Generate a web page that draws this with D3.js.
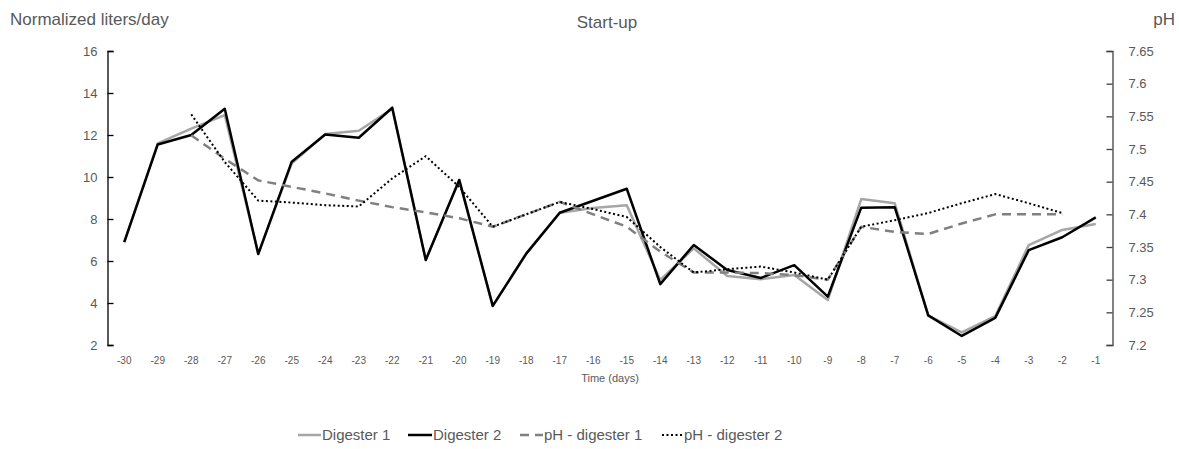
<!DOCTYPE html>
<html>
<head>
<meta charset="utf-8">
<script src="https://cdn.jsdelivr.net/npm/d3@7"></script>
<style>
  html, body { margin: 0; padding: 0; background: #ffffff; }
  svg { display: block; font-family: "Liberation Sans", Arial, sans-serif; }
</style>
</head>
<body>
<svg id="chart" width="1179" height="449"></svg>
<script>
// Days before start-up
const days = [-30,-29,-28,-27,-26,-25,-24,-23,-22,-21,-20,-19,-18,-17,-16,-15,-14,-13,-12,-11,-10,-9,-8,-7,-6,-5,-4,-3,-2,-1];

// Normalized gas production (liters/day)
const digester1 = [6.9,11.6,12.3,12.95,6.35,10.65,12.05,12.2,13.25,6.05,9.85,3.86,6.35,8.3,8.52,8.65,5.1,6.6,5.29,5.13,5.33,4.14,8.95,8.75,3.4,2.6,3.38,6.76,7.48,7.76];
const digester2 = [6.9,11.55,12.0,13.25,6.33,10.73,12.02,11.87,13.3,6.05,9.86,3.86,6.35,8.3,8.87,9.44,4.9,6.76,5.57,5.19,5.8,4.3,8.54,8.56,3.41,2.43,3.29,6.52,7.13,8.08];

// pH readings (null where no measurement)
const phDigester1 = [null,null,7.521,7.485,7.452,7.442,7.432,7.421,7.411,7.403,7.394,7.381,7.40,7.419,7.40,7.381,7.343,7.311,7.311,7.310,7.307,7.30,7.381,7.373,7.370,7.386,7.400,7.400,7.400,null];
const phDigester2 = [null,null,7.553,7.48,7.421,7.418,7.414,7.412,7.455,7.489,7.442,7.381,7.40,7.419,7.408,7.396,7.35,7.311,7.316,7.320,7.311,7.300,7.381,7.391,7.402,7.417,7.431,7.417,7.402,null];

const leftTicks = [2,4,6,8,10,12,14,16];
const rightTicks = [7.2,7.25,7.3,7.35,7.4,7.45,7.5,7.55,7.6,7.65];

const svg = d3.select("#chart");
const plot = { left: 107.5, right: 1112.5, top: 51, bottom: 345 };
const textColor = "#595959";

const x = d3.scaleBand().domain(days).range([plot.left, plot.right]).padding(0);
const cx = d => x(d) + x.bandwidth() / 2;
const yL = d3.scaleLinear().domain([2, 16]).range([plot.bottom, plot.top]);
const yR = d3.scaleLinear().domain([7.2, 7.65]).range([plot.bottom, plot.top]);

// Left axis
const gL = svg.append("g").attr("transform", `translate(${plot.left},0)`)
  .call(d3.axisLeft(yL).tickValues(leftTicks).tickSize(-6).tickPadding(10).tickFormat(d3.format("d")));
gL.select(".domain").attr("stroke", "#000").attr("stroke-width", 1.3);
gL.selectAll(".tick line").attr("stroke", "#000").attr("stroke-width", 1.3);
gL.selectAll(".tick text").attr("fill", textColor).style("font-size", "13px");

// Right axis
const gR = svg.append("g").attr("transform", `translate(${plot.right},0)`)
  .call(d3.axisRight(yR).tickValues(rightTicks).tickSize(-6).tickPadding(16).tickFormat(d => d3.format("")(+d.toFixed(2))));
gR.select(".domain").attr("stroke", "#404040").attr("stroke-width", 1.3);
gR.selectAll(".tick line").attr("stroke", "#404040").attr("stroke-width", 1.3);
gR.selectAll(".tick text").attr("fill", textColor).style("font-size", "13px");

// Category axis (labels only)
const gX = svg.append("g").attr("transform", `translate(0,${plot.bottom})`)
  .call(d3.axisBottom(x).tickSize(0).tickPadding(12));
gX.select(".domain").remove();
gX.selectAll(".tick text").attr("fill", textColor).style("font-size", "10px");

// Series lines
const lineL = d3.line().x((d, i) => cx(days[i])).y(d => yL(d));
const lineR = d3.line().defined(d => d != null).x((d, i) => cx(days[i])).y(d => yR(d));

const series = [
  { name: "Digester 1", values: digester1, line: lineL, stroke: "#a6a6a6", width: 2.5, dash: null },
  { name: "Digester 2", values: digester2, line: lineL, stroke: "#000000", width: 2.5, dash: null },
  { name: "pH - digester 1", values: phDigester1, line: lineR, stroke: "#808080", width: 2.5, dash: "9,6" },
  { name: "pH - digester 2", values: phDigester2, line: lineR, stroke: "#000000", width: 2, dash: "2,2.5" }
];

svg.append("g").selectAll("path").data(series).join("path")
  .attr("d", s => s.line(s.values))
  .attr("fill", "none")
  .attr("stroke", s => s.stroke)
  .attr("stroke-width", s => s.width)
  .attr("stroke-dasharray", s => s.dash)
  .attr("stroke-linejoin", "round");

// Titles
svg.append("text").attr("x", 10).attr("y", 25).attr("fill", textColor)
  .style("font-size", "17px").text("Normalized liters/day");
svg.append("text").attr("x", 607).attr("y", 28).attr("text-anchor", "middle").attr("fill", textColor)
  .style("font-size", "17px").text("Start-up");
svg.append("text").attr("x", 1175).attr("y", 25).attr("text-anchor", "end").attr("fill", textColor)
  .style("font-size", "17px").text("pH");
svg.append("text").attr("x", (plot.left + plot.right) / 2).attr("y", 382).attr("text-anchor", "middle").attr("fill", textColor)
  .style("font-size", "11px").text("Time (days)");

// Legend
const legendItems = [
  { s: series[0], x0: 298, x1: 321 },
  { s: series[1], x0: 408, x1: 432 },
  { s: series[2], x0: 520, x1: 543 },
  { s: series[3], x0: 662, x1: 683 }
];
const lg = svg.append("g");
legendItems.forEach(it => {
  lg.append("line").attr("x1", it.x0).attr("x2", it.x1).attr("y1", 435).attr("y2", 435)
    .attr("stroke", it.s.stroke).attr("stroke-width", it.s.width)
    .attr("stroke-dasharray", it.s.dash);
  lg.append("text").attr("x", it.x1 + 1).attr("y", 440).attr("fill", textColor)
    .style("font-size", "15px").text(it.s.name);
});
</script>
</body>
</html>
